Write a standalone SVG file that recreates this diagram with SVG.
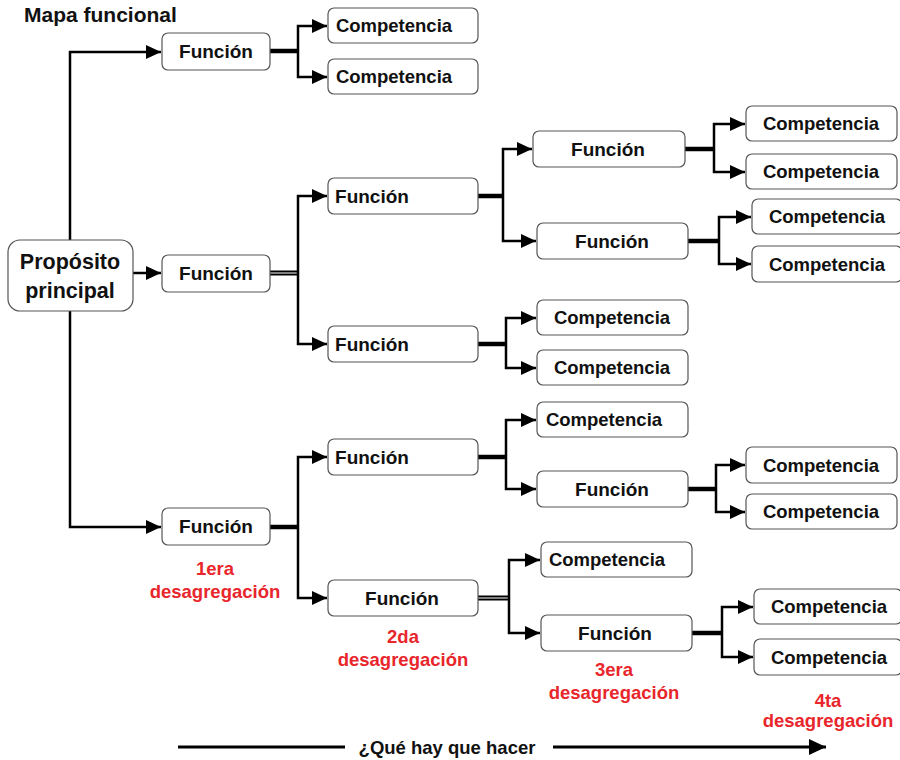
<svg xmlns="http://www.w3.org/2000/svg" width="900" height="760" viewBox="0 0 900 760">
<style>
.box{fill:#fff;stroke:#555;stroke-width:1.2}
.t{font-family:"Liberation Sans",Arial,sans-serif;font-weight:bold;font-size:18.5px;fill:#111;text-anchor:middle}
.fn{font-size:19px}
.big{font-size:21.5px}
.red{fill:#e8262b;font-size:18.5px}
.ln{fill:none;stroke:#000;stroke-width:2.5;stroke-linejoin:miter}
.th{fill:none;stroke:#000;stroke-width:4.5}
.db{fill:none;stroke:#000;stroke-width:5}
.dw{fill:none;stroke:#fff;stroke-width:1}
</style>
<defs>
<marker id="ah" markerUnits="userSpaceOnUse" markerWidth="16" markerHeight="14" refX="15" refY="7" orient="auto">
<path d="M0,0 L15,7 L0,14 z" fill="#000"/>
</marker>
<marker id="ah2" markerUnits="userSpaceOnUse" markerWidth="18" markerHeight="16" refX="17" refY="8" orient="auto">
<path d="M0,0 L17,8 L0,16 z" fill="#000"/>
</marker>
</defs>
<text class="t" x="24" y="22" style="text-anchor:start;font-size:21px">Mapa funcional</text>
<g id="connectors">
<path class="ln" d="M70,240 V52 H161" marker-end="url(#ah)"/>
<path class="ln" d="M70,310 V527 H161" marker-end="url(#ah)"/>
<path class="ln" d="M133,273 H161" marker-end="url(#ah)"/>
<path class="th" d="M270,51 H298"/>
<path class="ln" d="M298,51 V26 H327" marker-end="url(#ah)"/>
<path class="ln" d="M298,51 V77 H327" marker-end="url(#ah)"/>
<path class="db" d="M270,273 H298"/><path class="dw" d="M270,273 H297"/>
<path class="ln" d="M298,273 V196 H327" marker-end="url(#ah)"/>
<path class="ln" d="M298,273 V344 H327" marker-end="url(#ah)"/>
<path class="th" d="M478,196 H503"/>
<path class="ln" d="M503,196 V149 H532" marker-end="url(#ah)"/>
<path class="ln" d="M503,196 V241 H536" marker-end="url(#ah)"/>
<path class="th" d="M685,149 H714"/>
<path class="ln" d="M714,149 V124 H745" marker-end="url(#ah)"/>
<path class="ln" d="M714,149 V172 H745" marker-end="url(#ah)"/>
<path class="th" d="M688,241 H719"/>
<path class="ln" d="M719,241 V217 H751" marker-end="url(#ah)"/>
<path class="ln" d="M719,241 V264 H751" marker-end="url(#ah)"/>
<path class="th" d="M478,344 H506"/>
<path class="ln" d="M506,344 V318 H536" marker-end="url(#ah)"/>
<path class="ln" d="M506,344 V368 H536" marker-end="url(#ah)"/>
<path class="th" d="M270,527 H298"/>
<path class="ln" d="M298,527 V457 H327" marker-end="url(#ah)"/>
<path class="ln" d="M298,527 V598 H327" marker-end="url(#ah)"/>
<path class="th" d="M478,457 H506"/>
<path class="ln" d="M506,457 V420 H536" marker-end="url(#ah)"/>
<path class="ln" d="M506,457 V489 H536" marker-end="url(#ah)"/>
<path class="th" d="M688,489 H716"/>
<path class="ln" d="M716,489 V465 H745" marker-end="url(#ah)"/>
<path class="ln" d="M716,489 V512 H745" marker-end="url(#ah)"/>
<path class="db" d="M478,598 H509"/><path class="dw" d="M478,598 H508"/>
<path class="ln" d="M509,598 V560 H540" marker-end="url(#ah)"/>
<path class="ln" d="M509,598 V633 H540" marker-end="url(#ah)"/>
<path class="th" d="M692,633 H722"/>
<path class="ln" d="M722,633 V607 H753" marker-end="url(#ah)"/>
<path class="ln" d="M722,633 V657 H753" marker-end="url(#ah)"/>
<path class="ln" d="M178,747 H345" style="stroke-width:3"/>
<path class="ln" d="M553,747 H826" style="stroke-width:3" marker-end="url(#ah2)"/>
</g>
<g id="prop"><rect class="box" x="8" y="240" width="125" height="71" rx="12"/><text class="t big" x="70" y="269">Propósito</text><text class="t big" x="70" y="298">principal</text></g>
<g id="f1"><rect class="box" x="162" y="33" width="108" height="37" rx="6"/><text class="t fn" x="216" y="58">Función</text></g>
<g id="c1a"><rect class="box" x="328" y="8" width="150" height="35" rx="6"/><text class="t" x="394" y="32">Competencia</text></g>
<g id="c1b"><rect class="box" x="328" y="59" width="150" height="35" rx="6"/><text class="t" x="394" y="83">Competencia</text></g>
<g id="f2"><rect class="box" x="162" y="255" width="108" height="37" rx="6"/><text class="t fn" x="216" y="280">Función</text></g>
<g id="f2a"><rect class="box" x="328" y="178" width="150" height="36" rx="6"/><text class="t fn" x="372" y="203">Función</text></g>
<g id="f2aa"><rect class="box" x="533" y="131" width="152" height="36" rx="6"/><text class="t fn" x="608" y="156">Función</text></g>
<g id="c2a1"><rect class="box" x="746" y="106" width="151" height="35" rx="6"/><text class="t" x="821" y="130">Competencia</text></g>
<g id="c2a2"><rect class="box" x="746" y="154" width="151" height="35" rx="6"/><text class="t" x="821" y="178">Competencia</text></g>
<g id="f2ab"><rect class="box" x="537" y="223" width="151" height="36" rx="6"/><text class="t fn" x="612" y="248">Función</text></g>
<g id="c2b1"><rect class="box" x="752" y="199" width="150" height="35" rx="6"/><text class="t" x="827" y="223">Competencia</text></g>
<g id="c2b2"><rect class="box" x="752" y="246" width="150" height="36" rx="6"/><text class="t" x="827" y="271">Competencia</text></g>
<g id="f2b"><rect class="box" x="328" y="326" width="150" height="36" rx="6"/><text class="t fn" x="372" y="351">Función</text></g>
<g id="c2c1"><rect class="box" x="537" y="300" width="151" height="35" rx="6"/><text class="t" x="612" y="324">Competencia</text></g>
<g id="c2c2"><rect class="box" x="537" y="350" width="151" height="35" rx="6"/><text class="t" x="612" y="374">Competencia</text></g>
<g id="f3"><rect class="box" x="162" y="508" width="108" height="37" rx="6"/><text class="t fn" x="216" y="533">Función</text></g>
<g id="f3a"><rect class="box" x="328" y="439" width="150" height="36" rx="6"/><text class="t fn" x="372" y="464">Función</text></g>
<g id="c3a"><rect class="box" x="537" y="402" width="151" height="35" rx="6"/><text class="t" x="604" y="426">Competencia</text></g>
<g id="f3aa"><rect class="box" x="537" y="471" width="151" height="36" rx="6"/><text class="t fn" x="612" y="496">Función</text></g>
<g id="c3a1"><rect class="box" x="746" y="447" width="151" height="36" rx="6"/><text class="t" x="821" y="472">Competencia</text></g>
<g id="c3a2"><rect class="box" x="746" y="494" width="151" height="35" rx="6"/><text class="t" x="821" y="518">Competencia</text></g>
<g id="f3b"><rect class="box" x="328" y="580" width="150" height="36" rx="6"/><text class="t fn" x="402" y="605">Función</text></g>
<g id="c3b"><rect class="box" x="541" y="542" width="151" height="35" rx="6"/><text class="t" x="607" y="566">Competencia</text></g>
<g id="f3ba"><rect class="box" x="541" y="615" width="151" height="36" rx="6"/><text class="t fn" x="615" y="640">Función</text></g>
<g id="c3b1"><rect class="box" x="754" y="589" width="148" height="35" rx="6"/><text class="t" x="829" y="613">Competencia</text></g>
<g id="c3b2"><rect class="box" x="754" y="639" width="148" height="36" rx="6"/><text class="t" x="829" y="664">Competencia</text></g>
<g id="labels">
<text class="t red" x="215" y="575">1era</text><text class="t red" x="215" y="598">desagregación</text>
<text class="t red" x="403" y="643">2da</text><text class="t red" x="403" y="666">desagregación</text>
<text class="t red" x="614" y="676">3era</text><text class="t red" x="614" y="699">desagregación</text>
<text class="t red" x="828" y="707">4ta</text><text class="t red" x="828" y="727">desagregación</text>
<text class="t" x="447" y="754">¿Qué hay que hacer</text>
</g>
</svg>
